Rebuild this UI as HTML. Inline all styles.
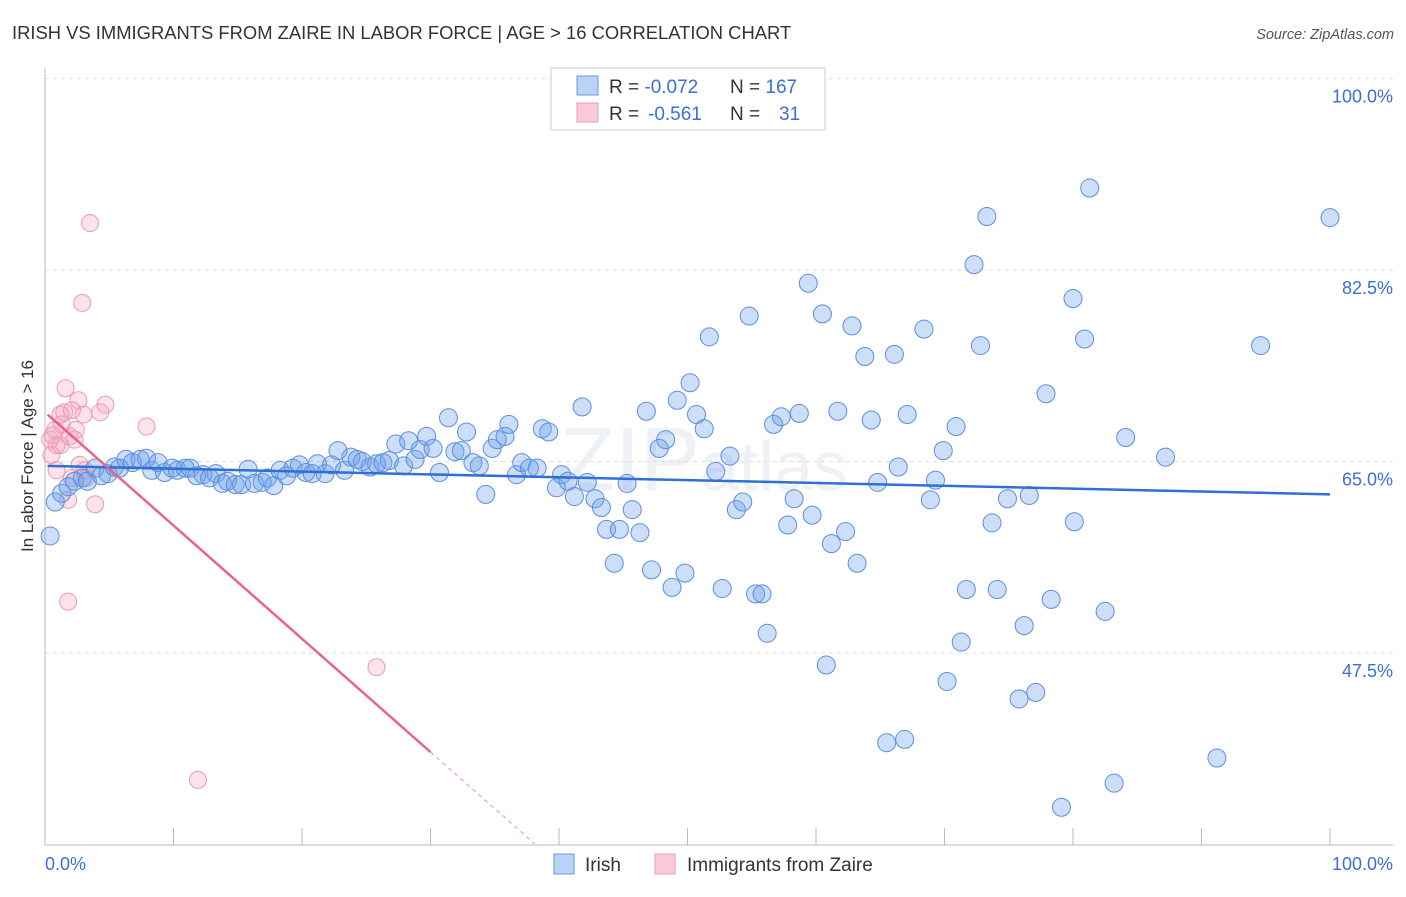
<!DOCTYPE html>
<html><head><meta charset="utf-8"><style>
body{margin:0;background:#fff;font-family:"Liberation Sans",sans-serif}
svg text{font-family:"Liberation Sans",sans-serif}
</style></head><body>
<svg id="chart" width="1406" height="892" xmlns="http://www.w3.org/2000/svg">
<text x="12" y="39" font-size="18.4" fill="#333">IRISH VS IMMIGRANTS FROM ZAIRE IN LABOR FORCE | AGE &gt; 16 CORRELATION CHART</text>
<text x="1394" y="39" font-size="14.5" fill="#555" font-style="italic" text-anchor="end">Source: ZipAtlas.com</text>
<text x="33" y="456" font-size="17" fill="#333" text-anchor="middle" transform="rotate(-90 33 456)">In Labor Force | Age &gt; 16</text>
<text x="560" y="490" font-size="90" fill="#eef1f6" font-family="Liberation Serif">ZIP<tspan font-family="Liberation Sans" font-size="70">atlas</tspan></text>
<g id="grid"></g>
<g id="axes"></g>
<g id="pts"></g>
<g id="trends"></g>
<g>
<rect x="551" y="68" width="274" height="62" fill="#fff" stroke="#ccc"/>
<rect x="577" y="76" width="21" height="19" fill="#bcd3f5" stroke="#6a9ae6"/>
<rect x="577" y="103" width="21" height="19" fill="#fbc9d8" stroke="#ec9ab6"/>
<text x="609" y="93" font-size="19" fill="#333">R = <tspan fill="#3a6fd8">-0.072</tspan><tspan x="730">N = </tspan><tspan fill="#3a6fd8">167</tspan></text>
<text x="609" y="120" font-size="19" fill="#333">R = <tspan x="648" fill="#3a6fd8">-0.561</tspan><tspan x="730">N = </tspan><tspan x="779" fill="#3a6fd8">31</tspan></text>
</g>
<g>
<rect x="554" y="854" width="20" height="20" fill="#bcd3f5" stroke="#6a9ae6"/>
<text x="585" y="871" font-size="19" fill="#333">Irish</text>
<rect x="655" y="854" width="20" height="20" fill="#fbc9d8" stroke="#ec9ab6"/>
<text x="687" y="871" font-size="19" fill="#333">Immigrants from Zaire</text>
</g>
</svg>
<script>
const yTicks=[100,82.5,65,47.5];
const yTickLabels=["100.0%","82.5%","65.0%","47.5%"];
const xTickVals=[0,10,20,30,40,50,60,70,80,90,100];
const irishX=[0.4,0.8,1.3,1.8,2.3,2.9,3.3,3.9,4.4,4.9,5.4,5.8,6.3,6.8,7.4,7.9,8.3,8.8,9.3,9.9,10.3,10.9,11.3,11.8,12.3,12.8,13.3,13.8,14.2,14.8,15.3,15.8,16.3,16.9,17.3,17.8,18.3,18.8,19.3,19.8,20.3,20.8,21.2,21.8,22.3,22.8,23.3,23.8,24.3,24.7,25.3,25.8,26.3,26.8,27.3,27.9,28.3,28.8,29.2,29.7,30.2,30.7,31.4,31.9,32.4,32.8,33.3,33.8,34.3,34.8,35.2,35.8,36.1,36.7,37.1,37.7,38.3,38.7,39.2,39.8,40.2,40.7,41.2,41.8,42.2,42.8,43.3,43.7,44.3,44.7,45.3,45.7,46.3,46.8,47.2,47.8,48.3,48.8,49.2,49.8,50.2,50.7,51.3,51.7,52.2,52.7,53.3,53.8,54.3,54.8,55.3,55.8,56.2,56.7,57.3,57.8,58.3,58.7,59.4,59.7,60.5,60.8,61.2,61.7,62.3,62.8,63.2,63.8,64.3,64.8,65.5,66.1,66.4,66.9,67.1,68.4,68.9,69.3,69.9,70.2,70.9,71.3,71.7,72.3,72.8,73.3,73.7,74.1,74.9,76.2,76.6,75.8,77.1,77.9,78.3,79.1,80.0,80.1,80.9,81.3,82.5,83.2,84.1,87.2,91.2,94.6,100.0];
const irishY=[58.2,61.3,62.1,62.7,63.2,63.5,63.2,64.4,63.7,63.9,64.5,64.4,65.2,64.9,65.2,65.3,64.2,64.9,64.0,64.4,64.2,64.4,64.4,63.7,63.8,63.5,63.9,63.0,63.2,62.9,62.9,64.3,63.0,63.1,63.5,62.8,64.2,63.7,64.4,64.7,64.0,63.9,64.8,63.9,64.7,66.0,64.2,65.4,65.2,65.0,64.5,64.8,64.9,65.1,66.6,64.6,66.9,65.2,66.1,67.3,66.2,64.0,69.0,65.9,66.0,67.7,64.9,64.6,62.0,66.2,67.0,67.3,68.4,63.8,64.9,64.4,64.4,68.0,67.7,62.6,63.8,63.2,61.8,70.0,63.1,61.6,60.8,58.8,55.7,58.8,63.0,60.6,58.5,69.6,55.1,66.2,67.0,53.5,70.6,54.8,72.2,69.3,68.0,76.4,64.1,53.4,65.5,60.6,61.3,78.3,52.9,52.9,49.3,68.4,69.1,59.2,61.6,69.4,81.3,60.1,78.5,46.4,57.5,69.6,58.6,77.4,55.7,74.6,68.8,63.1,39.3,74.8,64.5,39.6,69.3,77.1,61.5,63.3,66.0,44.9,68.2,48.5,53.3,83.0,75.6,87.4,59.4,53.3,61.6,50.0,61.9,43.3,43.9,71.2,52.4,33.4,79.9,59.5,76.2,90.0,51.3,35.6,67.2,65.4,37.9,75.6,87.3];
const zaireX=[0.4,0.5,0.8,0.9,1.2,1.3,1.5,1.6,1.9,2.1,2.3,2.4,2.6,2.7,2.9,3.0,3.1,3.2,3.5,3.9,4.3,4.7,1.8,7.9,11.9,25.8,1.8,2.1,0.9,1.2,0.6];
const zaireY=[67.0,65.6,67.9,66.5,69.3,68.4,69.5,71.7,67.3,69.7,67.0,67.9,70.6,64.7,79.5,69.3,64.2,63.5,86.8,61.1,69.5,70.2,52.2,68.2,35.9,46.2,61.5,63.5,64.2,66.5,67.4];
const irishTrend=[64.6,62.0];
const zaireTrend=[69.3,38.45];
const zaireSolidEnd=30, zaireDashEnd=38.1;

const NS="http://www.w3.org/2000/svg";
const X=v=>45+v*12.85;
const Y=v=>653+(47.5-v)*10.94;
function mk(tag,attrs,parent){const e=document.createElementNS(NS,tag);for(const k in attrs)e.setAttribute(k,attrs[k]);document.getElementById(parent).appendChild(e);return e;}
yTicks.forEach((t,i)=>{
 const l=mk('line',{x1:45,x2:1393,y1:Y(t),y2:Y(t),stroke:'#ddd','stroke-dasharray':'4,4'},'grid');
 
 
 const tx=mk('text',{x:1393,y:Y(t)+24,'font-size':18,fill:'#3a6fd8','text-anchor':'end'},'grid');
 tx.textContent=yTickLabels[i];
 
 
});
const ax=mk('line',{x1:45,x2:1393,y1:845,y2:845,stroke:'#bbb'},'axes');


const ay=mk('line',{x1:45,x2:45,y1:68,y2:845,stroke:'#bbb'},'axes');


xTickVals.forEach(v=>{
 const t=mk('line',{x1:X(v),x2:X(v),y1:828,y2:845,stroke:'#bbb'},'axes');
 
 
});
const xl0=mk('text',{x:45,y:870,'font-size':18,fill:'#3a6fd8'},'axes');xl0.textContent='0.0%';


const xl1=mk('text',{x:1393,y:870,'font-size':18,fill:'#3a6fd8','text-anchor':'end'},'axes');xl1.textContent='100.0%';


zaireX.forEach((v,i)=>{
 const c=mk('circle',{cx:X(v),cy:Y(zaireY[i]),r:8.5,fill:'rgba(245,160,190,0.3)',stroke:'#eb9ab6','stroke-width':1},'pts');
 
 
});
irishX.forEach((v,i)=>{
 const c=mk('circle',{cx:X(v),cy:Y(irishY[i]),r:9,fill:'rgba(110,160,235,0.35)',stroke:'#5b8fe0','stroke-width':1},'pts');
 
 
});
const bt=mk('line',{x1:X(0.2),y1:Y(irishTrend[0]),x2:X(100),y2:Y(irishTrend[1]),stroke:'#2f6fd6','stroke-width':2.5},'trends');


const slope=(zaireTrend[1]-zaireTrend[0])/(zaireSolidEnd-0.2);
const pt=mk('line',{x1:X(0.2),y1:Y(zaireTrend[0]),x2:X(zaireSolidEnd),y2:Y(zaireTrend[1]),stroke:'#e8648f','stroke-width':2.5},'trends');


const pd=mk('line',{x1:X(zaireSolidEnd),y1:Y(zaireTrend[1]),x2:X(zaireDashEnd),y2:Y(zaireTrend[1]+slope*(zaireDashEnd-zaireSolidEnd)),stroke:'#eea0b8','stroke-width':1.2,'stroke-dasharray':'4,4'},'trends');


</script>
</body></html>
